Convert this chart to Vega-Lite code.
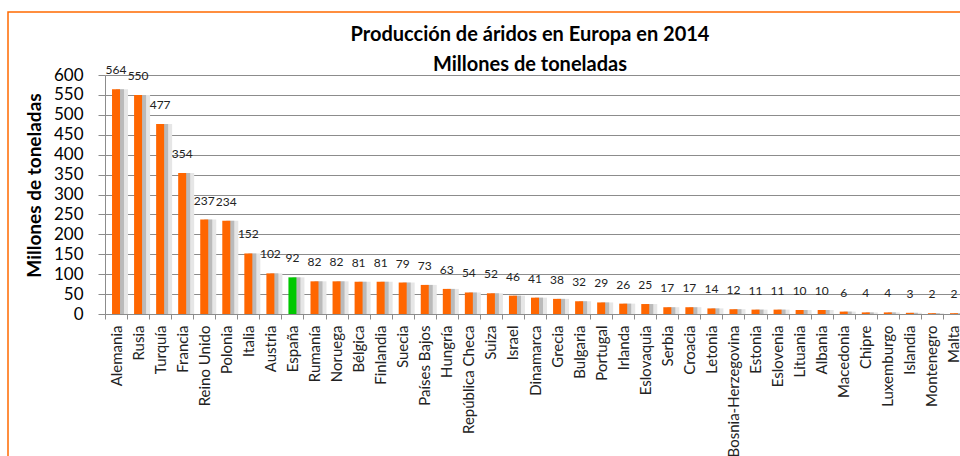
{
  "$schema": "https://vega.github.io/schema/vega-lite/v6.json",
  "width": 960,
  "height": 460,
  "autosize": {"type": "none"},
  "padding": {"left": 8, "top": 12, "right": 0, "bottom": 0},
  "background": "white",
  "config": {
    "font": "Lato",
    "view": {"stroke": "#ff6a00", "strokeWidth": 1.5}
  },
  "title": {
    "text": ["Producción de áridos en Europa en 2014", "Millones de toneladas"],
    "fontSize": 20,
    "fontWeight": "bold",
    "color": "#000000",
    "anchor": "middle",
    "frame": "group",
    "offset": 0,
    "dx": 42,
    "dy": 63,
    "lineHeight": 30
  },
  "data": {
    "values": [
      {"pais": "Alemania", "valor": 564},
      {"pais": "Rusia", "valor": 550},
      {"pais": "Turquía", "valor": 477},
      {"pais": "Francia", "valor": 354},
      {"pais": "Reino Unido", "valor": 237},
      {"pais": "Polonia", "valor": 234},
      {"pais": "Italia", "valor": 152},
      {"pais": "Austria", "valor": 102},
      {"pais": "España", "valor": 92},
      {"pais": "Rumanía", "valor": 82},
      {"pais": "Noruega", "valor": 82},
      {"pais": "Bélgica", "valor": 81},
      {"pais": "Finlandia", "valor": 81},
      {"pais": "Suecia", "valor": 79},
      {"pais": "Países Bajos", "valor": 73},
      {"pais": "Hungría", "valor": 63},
      {"pais": "República Checa", "valor": 54},
      {"pais": "Suiza", "valor": 52},
      {"pais": "Israel", "valor": 46},
      {"pais": "Dinamarca", "valor": 41},
      {"pais": "Grecia", "valor": 38},
      {"pais": "Bulgaria", "valor": 32},
      {"pais": "Portugal", "valor": 29},
      {"pais": "Irlanda", "valor": 26},
      {"pais": "Eslovaquia", "valor": 25},
      {"pais": "Serbia", "valor": 17},
      {"pais": "Croacia", "valor": 17},
      {"pais": "Letonia", "valor": 14},
      {"pais": "Bosnia-Herzegovina", "valor": 12},
      {"pais": "Estonia", "valor": 11},
      {"pais": "Eslovenia", "valor": 11},
      {"pais": "Lituania", "valor": 10},
      {"pais": "Albania", "valor": 10},
      {"pais": "Macedonia", "valor": 6},
      {"pais": "Chipre", "valor": 4},
      {"pais": "Luxemburgo", "valor": 4},
      {"pais": "Islandia", "valor": 3},
      {"pais": "Montenegro", "valor": 2},
      {"pais": "Malta", "valor": 2}
    ]
  },
  "encoding": {
    "x": {
      "field": "pais",
      "type": "nominal",
      "sort": null,
      "scale": {"range": [97, 957], "paddingInner": 0, "paddingOuter": 0},
      "axis": {
        "title": null,
        "offset": -158,
        "labelAngle": -90,
        "labelFontSize": 15,
        "labelColor": "#222222",
        "labelPadding": 6,
        "labelOverlap": false,
        "labelLimit": 300,
        "tickBand": "extent",
        "tickSize": 5,
        "tickColor": "#8c8c8c",
        "domainColor": "#8c8c8c",
        "grid": false
      }
    },
    "y": {
      "field": "valor",
      "type": "quantitative",
      "scale": {"domain": [0, 600], "range": [302, 63], "nice": false},
      "axis": {
        "title": "Millones de toneladas",
        "titleFontSize": 19,
        "titleFontWeight": "bold",
        "titleColor": "#000000",
        "titlePadding": 9,
        "titleY": 173,
        "offset": -97,
        "values": [0, 50, 100, 150, 200, 250, 300, 350, 400, 450, 500, 550, 600],
        "labelFontSize": 17,
        "labelColor": "#000000",
        "labelPadding": 15,
        "tickSize": 7,
        "tickColor": "#8c8c8c",
        "domainColor": "#8c8c8c",
        "grid": true,
        "gridColor": "#8c8c8c",
        "gridWidth": 1
      }
    }
  },
  "layer": [
    {"mark": {"type": "bar", "width": 8, "xOffset": 8, "color": "#e6e6e6"}},
    {"mark": {"type": "bar", "width": 8, "xOffset": 4, "color": "#bababa"}},
    {
      "mark": {"type": "bar", "width": 8},
      "encoding": {
        "color": {
          "condition": {"test": "datum.pais === 'España'", "value": "#00c800"},
          "value": "#ff6600"
        }
      }
    },
    {
      "mark": {"type": "text", "baseline": "middle", "align": "center", "dy": -19, "fontSize": 12, "color": "#222222"},
      "encoding": {"text": {"field": "valor", "type": "quantitative"}}
    }
  ]
}
